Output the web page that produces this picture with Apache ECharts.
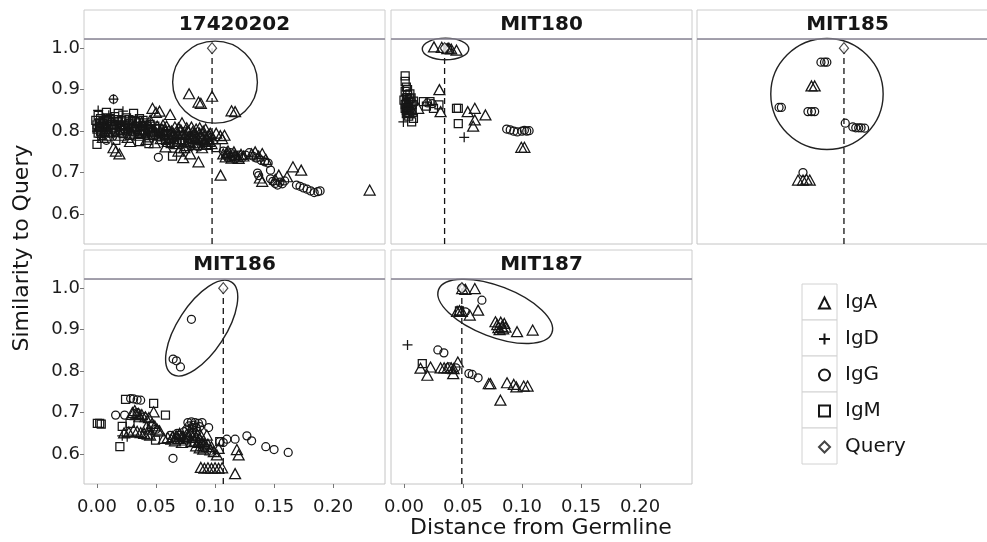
<!DOCTYPE html>
<html>
<head>
<meta charset="utf-8">
<title>Similarity to Query vs Distance from Germline</title>
<script src="https://cdn.jsdelivr.net/npm/echarts@6/dist/echarts.min.js"></script>
<style>
  html, body { margin: 0; padding: 0; background: #fff; }
  #chart { width: 987px; height: 542px; }
</style>
</head>
<body>
<div id="chart"></div>
<script>
// facets, in reading order
var panelNames = ['17420202', 'MIT180', 'MIT185', 'MIT186', 'MIT187'];
var isotypes = ['IgA', 'IgD', 'IgG', 'IgM', 'Query'];
var xTicks = [0, 0.05, 0.10, 0.15, 0.20];
var yTicks = [0.6, 0.7, 0.8, 0.9, 1.0];

// query sequence of each facet (dashed line + diamond)
var queryX = [0.0975, 0.0344, 0.1135, 0.107, 0.049];
var querySim = [1.0, 1.0, 1.0, 1.0, 1.0];

// [distance, similarity] per facet
var igA = [
  [[0.078,0.890],[0.086,0.870],[0.088,0.867],[0.0975,0.884],[0.114,0.849],[0.117,0.847],
   [0.002,0.812],[0.006,0.800],[0.010,0.790],[0.014,0.760],[0.016,0.752],[0.019,0.745],[0.022,0.805],[0.026,0.785],
   [0.028,0.775],[0.032,0.812],[0.035,0.790],[0.038,0.822],[0.040,0.805],[0.042,0.780],[0.045,0.826],[0.047,0.855],
   [0.049,0.772],[0.050,0.845],[0.051,0.812],[0.053,0.848],[0.055,0.805],[0.057,0.795],[0.058,0.762],[0.059,0.812],
   [0.060,0.775],[0.062,0.840],[0.063,0.800],[0.064,0.788],[0.066,0.810],[0.067,0.770],[0.068,0.795],[0.069,0.752],
   [0.070,0.782],[0.071,0.803],[0.072,0.820],[0.073,0.736],[0.074,0.760],[0.075,0.792],[0.076,0.808],[0.077,0.778],
   [0.078,0.788],[0.079,0.745],[0.080,0.810],[0.081,0.798],[0.082,0.768],[0.083,0.782],[0.084,0.805],[0.085,0.772],
   [0.086,0.726],[0.087,0.808],[0.088,0.790],[0.089,0.760],[0.090,0.800],[0.091,0.778],[0.092,0.805],[0.093,0.768],
   [0.094,0.788],[0.095,0.775],[0.096,0.795],[0.098,0.782],
   [0.004,0.822],[0.008,0.812],[0.012,0.826],[0.018,0.800],[0.024,0.816],[0.030,0.795],[0.034,0.826],[0.039,0.800],
   [0.044,0.812],[0.048,0.800],[0.052,0.790],[0.054,0.782],[0.056,0.815],[0.061,0.802],[0.065,0.795],[0.069,0.808],
   [0.073,0.795],[0.077,0.800],[0.079,0.772],[0.081,0.785],[0.083,0.795],[0.085,0.785],[0.087,0.795],[0.089,0.780],
   [0.091,0.790],[0.093,0.782],[0.095,0.792],[0.097,0.770],[0.076,0.765],[0.071,0.760],[0.066,0.775],[0.062,0.785],
   [0.058,0.800],[0.046,0.805],[0.042,0.795],[0.036,0.805],[0.027,0.808],[0.020,0.790],[0.009,0.800],[0.005,0.785],
   [0.101,0.795],[0.1045,0.789],[0.106,0.782],[0.108,0.790],[0.1047,0.694],[0.110,0.748],[0.113,0.742],[0.116,0.750],
   [0.107,0.745],[0.109,0.738],[0.111,0.752],[0.114,0.735],[0.117,0.742],[0.120,0.734],[0.124,0.740],
   [0.119,0.738],[0.122,0.744],[0.131,0.745],[0.134,0.750],[0.137,0.740],[0.140,0.746],[0.143,0.732],[0.138,0.687],
   [0.140,0.679],[0.151,0.684],[0.154,0.694],[0.161,0.690],[0.166,0.714],[0.173,0.706],[0.231,0.658]],
  [[0.0254,1.003],[0.032,1.002],[0.0367,0.999],[0.038,1.000],[0.040,0.998],[0.0445,0.995],[0.030,0.900],[0.006,0.855],
   [0.012,0.855],[0.031,0.847],[0.054,0.847],[0.060,0.855],[0.069,0.839],[0.060,0.827],[0.0586,0.812],[0.0994,0.761],
   [0.102,0.761],[0.003,0.868],[0.004,0.846]],
  [[0.086,0.909],[0.0887,0.909],[0.0746,0.682],[0.0788,0.682],[0.0817,0.684],[0.0845,0.682]],
  [[0.023,0.651],[0.027,0.653],[0.031,0.658],[0.034,0.655],[0.037,0.652],[0.040,0.650],[0.043,0.648],[0.045,0.646],
   [0.030,0.700],[0.032,0.705],[0.035,0.698],[0.038,0.695],[0.041,0.690],[0.044,0.688],[0.048,0.702],[0.0467,0.674],
   [0.049,0.668],[0.051,0.660],[0.053,0.656],[0.0566,0.638],[0.060,0.640],[0.063,0.636],[0.066,0.632],[0.069,0.638],
   [0.072,0.628],[0.075,0.634],[0.078,0.644],[0.080,0.630],[0.082,0.652],[0.084,0.640],[0.086,0.628],[0.088,0.645],
   [0.090,0.620],[0.093,0.646],[0.084,0.620],[0.087,0.615],[0.090,0.612],[0.093,0.618],[0.096,0.610],[0.099,0.606],
   [0.070,0.650],[0.073,0.642],[0.076,0.648],[0.079,0.655],[0.081,0.640],[0.083,0.632],[0.085,0.648],[0.087,0.636],
   [0.089,0.630],[0.091,0.625],[0.094,0.624],[0.097,0.618],[0.064,0.642],[0.067,0.644],[0.042,0.666],[0.044,0.660],
   [0.036,0.690],[0.033,0.695],
   [0.1016,0.598],[0.103,0.614],[0.088,0.568],[0.091,0.566],[0.094,0.567],[0.097,0.566],[0.100,0.567],[0.103,0.566],
   [0.106,0.567],[0.1185,0.611],[0.120,0.598],[0.117,0.553]],
  [[0.0493,0.999],[0.052,0.997],[0.060,0.999],[0.045,0.944],[0.047,0.946],[0.049,0.944],[0.0557,0.935],[0.0628,0.947],
   [0.0775,0.919],[0.079,0.912],[0.080,0.905],[0.082,0.918],[0.083,0.908],[0.084,0.902],[0.085,0.915],[0.086,0.906],
   [0.081,0.900],[0.0958,0.895],[0.109,0.899],[0.014,0.807],[0.0198,0.790],[0.0225,0.810],[0.031,0.808],[0.034,0.808],
   [0.037,0.808],[0.040,0.808],[0.042,0.806],[0.0456,0.822],[0.0417,0.794],[0.0718,0.770],[0.0732,0.770],[0.0873,0.772],
   [0.093,0.768],[0.0952,0.762],[0.1014,0.764],[0.1047,0.764],[0.0817,0.730]]
];

var igD = [
  [[0.014,0.877],[0.001,0.850],[0.005,0.832],[0.010,0.838],[0.016,0.822],[0.022,0.848],[0.026,0.806],[0.000,0.800],[0.003,0.785]],
  [[-0.0005,0.822],[0.051,0.785]],
  [],
  [[0.0214,0.644],[0.0256,0.642]],
  [[0.003,0.863]]
];

var igG = [
  [[0.008,0.778],[0.014,0.877],[0.012,0.822],[0.020,0.815],[0.030,0.800],[0.038,0.812],[0.046,0.790],[0.052,0.737],
   [0.057,0.782],[0.065,0.772],[0.072,0.776],[0.080,0.772],[0.086,0.762],[0.093,0.765],[0.107,0.752],[0.109,0.742],
   [0.111,0.736],[0.113,0.748],[0.115,0.740],[0.117,0.733],[0.120,0.742],[0.123,0.736],[0.126,0.742],[0.129,0.748],
   [0.132,0.740],[0.135,0.735],[0.139,0.730],[0.142,0.726],[0.145,0.723],[0.147,0.706],[0.136,0.699],[0.137,0.693],
   [0.147,0.685],[0.149,0.679],[0.151,0.674],[0.153,0.670],[0.155,0.677],[0.157,0.673],[0.159,0.680],[0.169,0.670],
   [0.172,0.667],[0.175,0.663],[0.178,0.660],[0.181,0.656],[0.184,0.652],[0.187,0.654],[0.189,0.656]],
  [[0.020,0.868],[0.024,0.866],[0.087,0.805],[0.090,0.803],[0.093,0.800],[0.096,0.798],[0.100,0.800],[0.102,0.802],
   [0.104,0.800],[0.106,0.801],[0.035,1.0],[0.037,1.0]],
  [[0.094,0.966],[0.097,0.966],[0.099,0.966],[0.0585,0.857],[0.0605,0.857],[0.083,0.847],[0.086,0.847],[0.0887,0.847],
   [0.1146,0.819],[0.121,0.810],[0.1235,0.808],[0.126,0.808],[0.128,0.808],[0.131,0.807],[0.0788,0.700]],
  [[0.080,0.925],[0.0645,0.829],[0.0673,0.825],[0.0707,0.810],[0.0158,0.694],[0.0234,0.694],[0.0285,0.734],[0.031,0.733],
   [0.034,0.731],[0.037,0.730],[0.0644,0.590],[0.077,0.676],[0.080,0.678],[0.083,0.676],[0.086,0.674],[0.089,0.676],
   [0.0946,0.664],[0.110,0.636],[0.117,0.636],[0.127,0.644],[0.131,0.632],[0.143,0.618],[0.150,0.611],[0.162,0.604],
   [0.062,0.645],[0.068,0.650],[0.072,0.640],[0.076,0.660],[0.081,0.664],[0.085,0.655],[0.046,0.670],[0.050,0.660],
   [0.078,0.668],[0.082,0.670],[0.084,0.664],[0.087,0.666],[0.074,0.654],
   [0.104,0.630],[0.107,0.628],[0.034,0.700],[0.040,0.690]],
  [[0.066,0.971],[0.052,0.943],[0.0287,0.851],[0.0338,0.844],[0.055,0.794],[0.0578,0.792],[0.0628,0.784],[0.038,0.810],
   [0.044,0.808],[0.049,1.0]]
];

var igM = [
  [[-0.001,0.826],[0.000,0.815],[0.000,0.805],[0.001,0.795],[0.000,0.768],[0.001,0.838],[0.002,0.820],[0.002,0.810],
   [0.003,0.800],[0.003,0.830],[0.004,0.790],[0.005,0.818],[0.005,0.808],[0.006,0.826],[0.007,0.798],[0.008,0.845],
   [0.008,0.812],[0.009,0.822],[0.010,0.804],[0.011,0.830],[0.012,0.795],[0.013,0.816],[0.014,0.808],[0.015,0.835],
   [0.016,0.800],[0.017,0.822],[0.018,0.843],[0.019,0.812],[0.020,0.802],[0.021,0.826],[0.022,0.794],[0.023,0.815],
   [0.024,0.806],[0.025,0.832],[0.026,0.800],[0.027,0.818],[0.028,0.790],[0.029,0.808],[0.030,0.826],[0.031,0.843],
   [0.032,0.798],[0.033,0.812],[0.034,0.804],[0.035,0.820],[0.036,0.792],[0.037,0.810],[0.038,0.800],[0.039,0.826],
   [0.040,0.814],[0.041,0.795],[0.043,0.806],[0.044,0.784],[0.045,0.816],[0.047,0.798],[0.048,0.790],[0.050,0.806],
   [0.052,0.796],[0.054,0.786],[0.056,0.800],[0.058,0.778],[0.060,0.792],[0.062,0.770],[0.064,0.740],[0.066,0.786],
   [0.068,0.776],[0.071,0.790],[0.074,0.772],[0.078,0.782],[0.082,0.788],[0.085,0.765],[0.090,0.772],[0.094,0.776],
   [0.003,0.812],[0.006,0.815],[0.009,0.832],[0.012,0.805],[0.015,0.815],[0.018,0.828],[0.021,0.810],[0.024,0.822],
   [0.027,0.828],[0.030,0.810],[0.033,0.822],[0.036,0.830],[0.039,0.812],[0.042,0.820],[0.046,0.806],[0.049,0.812],
   [0.053,0.805],[0.057,0.790],[0.061,0.780],
   [0.101,0.760],[0.016,0.778],[0.036,0.775],[0.044,0.770]],
  [[0.001,0.933],[0.001,0.920],[0.002,0.906],[0.001,0.896],[0.003,0.888],[0.002,0.880],[0.004,0.872],[0.001,0.864],
   [0.003,0.857],[0.002,0.850],[0.005,0.843],[0.004,0.836],[0.006,0.880],[0.007,0.864],[0.008,0.872],[0.006,0.852],
   [0.003,0.900],[0.005,0.890],[0.002,0.842],[0.004,0.860],[0.008,0.831],[0.0065,0.822],[0.0164,0.871],[0.022,0.871],
   [0.000,0.875],[0.002,0.866],[0.004,0.852],[0.006,0.868],[0.003,0.845],[0.005,0.878],[0.001,0.855],[0.007,0.845],
   [0.025,0.855],[0.0296,0.863],[0.0445,0.855],[0.046,0.855],[0.046,0.818],[0.019,0.860]],
  [],
  [[0.0003,0.674],[0.0023,0.674],[0.0036,0.672],[0.0242,0.732],[0.0214,0.667],[0.0194,0.618],[0.028,0.674],[0.048,0.722],
   [0.058,0.694],[0.0496,0.634],[0.104,0.630],[0.070,0.645],[0.076,0.636]],
  [[0.0155,0.818],[0.047,0.945]]
];

// hand-drawn rings: [centre x, centre y, half width (x units), half height (y units), tilt deg]
var rings = [
  [0.100, 0.918, 0.0359, 0.0988, 0],
  [0.0352, 0.998, 0.0197, 0.026, 0],
  [0.0991, 0.8896, 0.0476, 0.1337, 0],
  [0.0887, 0.9036, 0.0465, 0.0578, 57],
  [0.0773, 0.944, 0.0514, 0.0612, -21]
];

var FONT = '"DejaVu Sans", sans-serif';
var INK = '#161616';
var X_MIN = -0.011, X_MAX = 0.244, Y_MIN = 0.528, Y_MAX = 1.022;
var PW = 301, PH = 205;
var boxes = [[84, 39], [391, 39], [697, 39], [84, 279], [391, 279]];

var byType = { IgA: igA, IgD: igD, IgG: igG, IgM: igM };
var symbols = {
  IgA: ['triangle', [11, 10]],
  IgD: ['path://M5,0L5,10M0,5L10,5', [10, 10]],
  IgG: ['circle', 8],
  IgM: ['rect', 8],
  Query: ['diamond', [9, 11]]
};

var grids = [], xAxes = [], yAxes = [], series = [], graphics = [];

boxes.forEach(function (b, p) {
  var bottomRow = p >= 3;
  var leftCol = p === 0 || p === 3;
  grids.push({
    left: b[0], top: b[1], width: PW, height: PH,
    show: true, borderColor: '#c4c4c4', borderWidth: 1, backgroundColor: '#fff',
    containLabel: false, outerBoundsMode: 'none'
  });
  xAxes.push({
    type: 'value', gridIndex: p, min: X_MIN, max: X_MAX,
    splitLine: { show: false }, axisLine: { show: false, onZero: false },
    axisTick: { show: bottomRow, length: 4, lineStyle: { color: '#777' }, customValues: xTicks },
    axisLabel: {
      show: bottomRow, customValues: xTicks, margin: 14,
      fontFamily: FONT, fontSize: 18, color: '#1c1c1c',
      formatter: function (v) { return v.toFixed(2); }
    }
  });
  yAxes.push({
    type: 'value', gridIndex: p, min: Y_MIN, max: Y_MAX,
    splitLine: { show: false }, axisLine: { show: false, onZero: false },
    axisTick: { show: leftCol, length: 4, lineStyle: { color: '#777' }, customValues: yTicks },
    axisLabel: {
      show: leftCol, customValues: yTicks, margin: 4,
      fontFamily: FONT, fontSize: 18, color: '#1c1c1c',
      formatter: function (v) { return v.toFixed(1); }
    }
  });

  // facet strip
  graphics.push({
    type: 'rect', shape: { x: b[0], y: b[1] - 29, width: PW, height: 29 },
    style: { fill: '#fff', stroke: '#cccccc', lineWidth: 1 }
  });
  graphics.push({
    type: 'line', z: 100, shape: { x1: b[0], y1: b[1], x2: b[0] + PW, y2: b[1] },
    style: { stroke: '#8e8a9a', lineWidth: 1.3 }
  });
  graphics.push({
    type: 'text', x: b[0] + PW / 2, y: b[1] - 14,
    style: {
      text: panelNames[p], font: 'bold 20px ' + FONT, fill: INK,
      align: 'center', verticalAlign: 'middle', textAlign: 'center', textVerticalAlign: 'middle'
    }
  });

  // dashed guide at the query
  series.push({
    type: 'line', name: 'guide', xAxisIndex: p, yAxisIndex: p, silent: true,
    symbol: 'none', z: 1,
    lineStyle: { color: '#111', width: 1.3, type: [6, 4] },
    data: [[queryX[p], Y_MIN], [queryX[p], querySim[p]]]
  });

  ['IgA', 'IgD', 'IgG', 'IgM'].forEach(function (t) {
    if (!byType[t][p].length) return;
    series.push({
      type: 'scatter', name: t, xAxisIndex: p, yAxisIndex: p,
      symbol: symbols[t][0], symbolSize: symbols[t][1], z: 3,
      itemStyle: { color: 'rgba(255,255,255,0)', borderColor: INK, borderWidth: 1.25, opacity: 1 },
      data: byType[t][p]
    });
  });

  series.push({
    type: 'scatter', name: 'Query', xAxisIndex: p, yAxisIndex: p,
    symbol: symbols.Query[0], symbolSize: symbols.Query[1], z: 4,
    itemStyle: { color: '#fff', borderColor: INK, borderWidth: 1.25 },
    data: [[queryX[p], querySim[p]]]
  });

  series.push({
    type: 'custom', name: 'ring', xAxisIndex: p, yAxisIndex: p, silent: true, z: 5, clip: false,
    encode: { x: 0, y: 1 },
    data: [rings[p]],
    renderItem: function (params, api) {
      var c = api.coord([api.value(0), api.value(1)]);
      var s = api.size([api.value(2), api.value(3)]);
      return {
        type: 'ellipse', x: c[0], y: c[1], rotation: api.value(4) * Math.PI / 180,
        shape: { cx: 0, cy: 0, rx: s[0], ry: s[1] },
        style: { fill: 'none', stroke: '#222', lineWidth: 1.4 }
      };
    }
  });
});

// legend key boxes
isotypes.forEach(function (t, i) {
  graphics.push({
    type: 'rect', shape: { x: 802, y: 284 + 36 * i, width: 35, height: 36 },
    style: { fill: '#fff', stroke: '#d2d2d2', lineWidth: 1 }
  });
});

// axis titles
graphics.push({
  type: 'text', x: 541, y: 528,
  style: {
    text: 'Distance from Germline', font: '22px ' + FONT, fill: INK,
    align: 'center', verticalAlign: 'middle', textAlign: 'center', textVerticalAlign: 'middle'
  }
});
graphics.push({
  type: 'text', x: 22, y: 248, rotation: Math.PI / 2,
  style: {
    text: 'Similarity to Query', font: '22px ' + FONT, fill: INK,
    align: 'center', verticalAlign: 'middle', textAlign: 'center', textVerticalAlign: 'middle'
  }
});

var chart = echarts.init(document.getElementById('chart'), null, { renderer: 'canvas' });
chart.setOption({
  animation: false,
  backgroundColor: '#fff',
  textStyle: { fontFamily: FONT },
  grid: grids,
  xAxis: xAxes,
  yAxis: yAxes,
  legend: {
    data: isotypes, orient: 'vertical', left: 813, top: 288,
    itemWidth: 11, itemHeight: 11, itemGap: 16, selectedMode: false,
    textStyle: { fontFamily: FONT, fontSize: 20, color: INK, padding: [0, 0, 0, 10] }
  },
  graphic: { elements: graphics },
  series: series
});
</script>
</body>
</html>
